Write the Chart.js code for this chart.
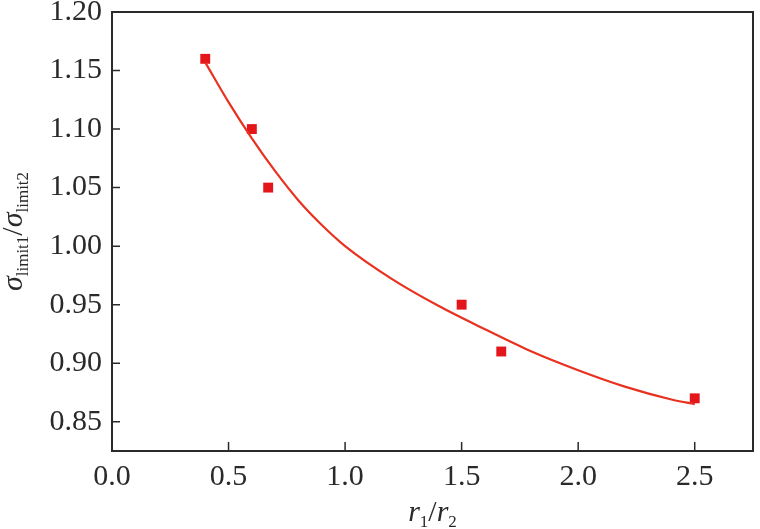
<!DOCTYPE html>
<html lang="en">
<head>
<meta charset="UTF-8">
<title>r1/r2 vs sigma ratio</title>
<script src="https://cdn.jsdelivr.net/npm/chart.js"></script>
<style>
  html, body { margin: 0; padding: 0; background: #fff; }
  #wrap { width: 760px; height: 529px; }
</style>
</head>
<body>
<div id="wrap"><canvas id="ratioChart" width="760" height="529"></canvas></div>
<script>
// measured points
const pointX = [0.4, 0.6, 0.67, 1.5, 1.67, 2.5];
const pointY = [1.16, 1.10, 1.05, 0.95, 0.91, 0.87];
// fitted curve
const fitX = [0.4, 0.5, 0.6, 0.7, 0.8, 0.9, 1.0, 1.2, 1.4, 1.6, 1.8, 2.0, 2.2, 2.4, 2.5];
const fitY = [1.157, 1.123, 1.092, 1.064, 1.039, 1.018, 1.000, 0.972, 0.949, 0.929, 0.910, 0.894, 0.880, 0.869, 0.865];
// axis ranges / ticks
const xRange = [0, 2.75];
const yRange = [0.825, 1.20];
const xStep = 0.5;
const yStep = 0.05;

const serif = '"Liberation Serif", "DejaVu Serif", serif';
const ink = '#2a2a2a';

// draws text made of pieces, some of them subscripts, centred on (cx, cy)
function drawParts(ctx, parts, cx, cy, angle) {
    ctx.save();
    ctx.translate(cx, cy);
    ctx.rotate(angle || 0);
    ctx.fillStyle = ink;
    ctx.textBaseline = 'alphabetic';
    var total = 0;
    parts.forEach(p => {
        ctx.font = p.font;
        p.w = ctx.measureText(p.text).width;
        total += p.w;
    });
    var x = -total / 2;
    parts.forEach(p => {
        ctx.font = p.font;
        ctx.fillText(p.text, x, 10 + (p.dy || 0));
        x += p.w;
    });
    ctx.restore();
}

const frame = {
    id: 'frame',
    afterDraw(chart) {
        const ctx = chart.ctx;
        const a = chart.chartArea;
        const xs = chart.scales.x, ys = chart.scales.y;
        ctx.save();
        ctx.strokeStyle = ink;
        ctx.lineWidth = 2;
        ctx.strokeRect(a.left, a.top, a.right - a.left, a.bottom - a.top);
        ctx.lineWidth = 1.5;
        ctx.beginPath();
        xs.ticks.forEach(t => {
            var px = xs.getPixelForValue(t.value);
            ctx.moveTo(px, a.bottom);
            ctx.lineTo(px, a.bottom - 9);
        });
        ys.ticks.forEach(t => {
            var py = ys.getPixelForValue(t.value);
            ctx.moveTo(a.left, py);
            ctx.lineTo(a.left + 8, py);
        });
        ctx.stroke();
        ctx.restore();

        var big = 'italic 30px ' + serif;
        var sub = '17px ' + serif;
        var slash = '30px ' + serif;
        // y title: sigma_limit1 / sigma_limit2
        drawParts(ctx, [
            {text: '\u03C3', font: big},
            {text: 'limit1', font: sub, dy: 6},
            {text: '/', font: slash},
            {text: '\u03C3', font: big},
            {text: 'limit2', font: sub, dy: 6}
        ], 12, (a.top + a.bottom) / 2, -Math.PI / 2);
        // x title: r1 / r2
        drawParts(ctx, [
            {text: 'r', font: big},
            {text: '1', font: sub, dy: 6},
            {text: '/', font: slash},
            {text: 'r', font: big},
            {text: '2', font: sub, dy: 6}
        ], (a.left + a.right) / 2, 511, 0);
    }
};

document.addEventListener('DOMContentLoaded', function() {
    var ctx = document.getElementById('ratioChart').getContext('2d');
    new Chart(ctx, {
        type: 'scatter',
        data: {
            datasets: [
                {
                    label: 'fit',
                    data: fitX.map((x, i) => ({x: x, y: fitY[i]})),
                    showLine: true,
                    borderColor: '#e8321f',
                    borderWidth: 2.2,
                    pointRadius: 0,
                    tension: 0.4,
                    cubicInterpolationMode: 'monotone',
                    fill: false
                },
                {
                    label: 'data',
                    data: pointX.map((x, i) => ({x: x, y: pointY[i]})),
                    pointStyle: 'rect',
                    pointRadius: 7,
                    backgroundColor: '#e3161c',
                    borderColor: '#e3161c',
                    borderWidth: 0
                }
            ]
        },
        options: {
            responsive: false,
            animation: false,
            layout: { padding: { top: 12, right: 3, left: 0, bottom: 0 } },
            plugins: { legend: { display: false }, tooltip: { enabled: false } },
            scales: {
                x: {
                    type: 'linear',
                    min: xRange[0], max: xRange[1],
                    border: { display: false },
                    grid: { display: false, drawTicks: false },
                    ticks: {
                        stepSize: xStep,
                        includeBounds: false,
                        padding: 8,
                        color: ink,
                        font: { family: serif, size: 30 },
                        callback: v => v.toFixed(1)
                    },
                    afterFit: s => { s.height = 78; s.paddingLeft = 0; s.paddingRight = 0; }
                },
                y: {
                    type: 'linear',
                    min: yRange[0], max: yRange[1],
                    border: { display: false },
                    grid: { display: false, drawTicks: false },
                    ticks: {
                        stepSize: yStep,
                        includeBounds: false,
                        padding: 10,
                        color: ink,
                        font: { family: serif, size: 30 },
                        callback: v => v.toFixed(2)
                    },
                    afterFit: s => { s.width = 112; s.paddingTop = 0; s.paddingBottom = 0; }
                }
            }
        },
        plugins: [frame]
    });
});
</script>
</body>
</html>
